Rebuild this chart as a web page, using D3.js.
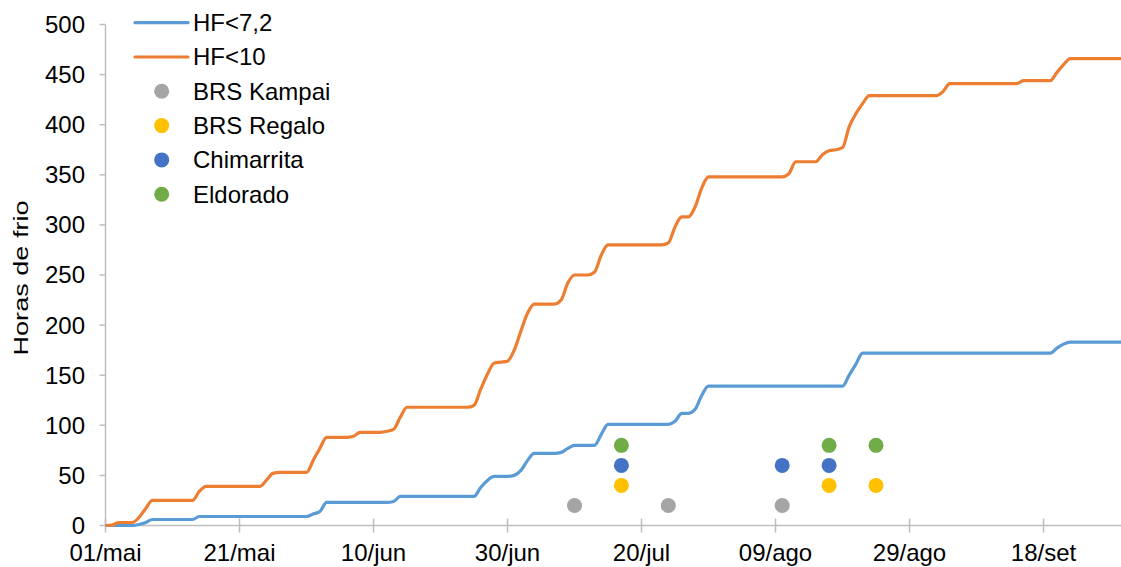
<!DOCTYPE html>
<html>
<head>
<meta charset="utf-8">
<script src="https://cdn.jsdelivr.net/npm/d3@7"></script>
<style>
  html, body { margin: 0; padding: 0; background: #fff; }
  svg { display: block; font-family: "Liberation Sans", Arial, sans-serif; }
</style>
</head>
<body>
<svg id="chart" width="1121" height="567"></svg>
<script>
// Daily accumulated chill hours, starting 01/mai (one value per day)
const startDate = new Date(2020, 4, 1);
const endDate = new Date(2020, 8, 30);

const hf72 = [
  0, 0, 0, 0, 0, 1, 3, 6, 6, 6,
  6, 6, 6, 6, 9, 9, 9, 9, 9, 9,
  9, 9, 9, 9, 9, 9, 9, 9, 9, 9,
  9, 11.5, 14, 23, 23, 23, 23, 23, 23, 23,
  23, 23, 23, 24, 29, 29, 29, 29, 29, 29,
  29, 29, 29, 29, 29, 29, 38, 45, 49, 49,
  49, 50, 55, 65, 72, 72, 72, 72, 73, 77,
  80, 80, 80, 80, 91, 101, 101, 101, 101, 101,
  101, 101, 101, 101, 101, 104, 112, 112, 116, 130,
  139, 139, 139, 139, 139, 139, 139, 139, 139, 139,
  139, 139, 139, 139, 139, 139, 139, 139, 139, 139,
  139, 150, 161, 172, 172, 172, 172, 172, 172, 172,
  172, 172, 172, 172, 172, 172, 172, 172, 172, 172,
  172, 172, 172, 172, 172, 172, 172, 172, 172, 172,
  172, 172, 177, 181, 183, 183, 183, 183, 183, 183,
  183, 183, 183
];

const hf10 = [
  0, 0.5, 3, 3, 3, 8, 17, 25, 25, 25,
  25, 25, 25, 25, 34, 39, 39, 39, 39, 39,
  39, 39, 39, 39, 45, 52, 53, 53, 53, 53,
  53, 65, 77, 88, 88, 88, 88, 89, 93, 93,
  93, 93, 94, 96, 108, 118, 118, 118, 118, 118,
  118, 118, 118, 118, 118, 120, 136, 151, 162, 163,
  164, 175, 194, 212, 221, 221, 221, 221, 225, 242,
  250, 250, 250, 253, 270, 280, 280, 280, 280, 280,
  280, 280, 280, 280, 282, 298, 308, 308, 318, 337,
  348, 348, 348, 348, 348, 348, 348, 348, 348, 348,
  348, 348, 351, 363, 363, 363, 363, 370, 374, 375,
  377, 398, 411, 421, 429, 429, 429, 429, 429, 429,
  429, 429, 429, 429, 429, 433, 441, 441, 441, 441,
  441, 441, 441, 441, 441, 441, 441, 444, 444, 444,
  444, 444, 452, 460, 466, 466, 466, 466, 466, 466,
  466, 466, 466
];

// Chill hours required per cultivar, plotted on the date it was reached
const kampaiDates = ["2020-07-10", "2020-07-24", "2020-08-10"];
const kampaiValue = 20;
const regaloDates = ["2020-07-17", "2020-08-17", "2020-08-24"];
const regaloValue = 40;
const chimarritaDates = ["2020-07-17", "2020-08-10", "2020-08-17"];
const chimarritaValue = 60;
const eldoradoDates = ["2020-07-17", "2020-08-17", "2020-08-24"];
const eldoradoValue = 80;

const yTicks = [0, 50, 100, 150, 200, 250, 300, 350, 400, 450, 500];
const xTickDates = ["2020-05-01", "2020-05-21", "2020-06-10", "2020-06-30",
                    "2020-07-20", "2020-08-09", "2020-08-29", "2020-09-18"];
const monthNames = ["jan", "fev", "mar", "abr", "mai", "jun", "jul", "ago", "set", "out", "nov", "dez"];

const lineSeries = [
  { name: "HF<7,2", values: hf72, color: "#5B9BD5" },
  { name: "HF<10", values: hf10, color: "#ED7D31" }
];
const pointSeries = [
  { name: "BRS Kampai", dates: kampaiDates, value: kampaiValue, color: "#A5A5A5" },
  { name: "BRS Regalo", dates: regaloDates, value: regaloValue, color: "#FFC000" },
  { name: "Chimarrita", dates: chimarritaDates, value: chimarritaValue, color: "#4472C4" },
  { name: "Eldorado", dates: eldoradoDates, value: eldoradoValue, color: "#70AD47" }
];

const parseDate = d3.timeParse("%Y-%m-%d");
const fmt = d => d3.timeFormat("%d")(d) + "/" + monthNames[d.getMonth()];

const svg = d3.select("#chart");
const x0 = 105.5, pxPerDay = 6.7;
const nDays = d3.timeDay.count(startDate, endDate);
const x = d3.scaleTime().domain([startDate, endDate]).range([x0, x0 + nDays * pxPerDay]);
const y = d3.scaleLinear().domain([0, 500]).range([525.5, 24.5]);
const plotRight = 1121;
const axisColor = "#BFBFBF";
const fontSize = 24;

// Y axis: line, outside ticks, labels
const yAxis = svg.append("g");
yAxis.append("line").attr("x1", x0).attr("x2", x0).attr("y1", y(500)).attr("y2", y(0))
  .attr("stroke", axisColor).attr("stroke-width", 1.5);
yAxis.selectAll("line.tick").data(yTicks).join("line").attr("class", "tick")
  .attr("x1", x0 - 6).attr("x2", x0).attr("y1", d => y(d)).attr("y2", d => y(d))
  .attr("stroke", axisColor).attr("stroke-width", 1.5);
yAxis.selectAll("text").data(yTicks).join("text")
  .attr("x", 85).attr("y", d => y(d)).attr("dy", "0.35em")
  .attr("text-anchor", "end").attr("font-size", fontSize).attr("fill", "#000")
  .text(d => d);

// X axis: line, crossing ticks, date labels
const xAxis = svg.append("g");
xAxis.append("line").attr("x1", x0).attr("x2", plotRight).attr("y1", y(0)).attr("y2", y(0))
  .attr("stroke", axisColor).attr("stroke-width", 1.5);
const xt = xTickDates.map(parseDate);
xAxis.selectAll("line.tick").data(xt).join("line").attr("class", "tick")
  .attr("x1", d => x(d)).attr("x2", d => x(d)).attr("y1", y(0) - 7).attr("y2", y(0) + 7)
  .attr("stroke", axisColor).attr("stroke-width", 1.5);
xAxis.selectAll("text").data(xt).join("text")
  .attr("x", d => x(d)).attr("y", 561)
  .attr("text-anchor", "middle").attr("font-size", fontSize).attr("fill", "#000")
  .text(fmt);

// Y axis title
svg.append("text")
  .attr("transform", `translate(27.5,${(y(0) + y(500)) / 2 + 3}) rotate(-90)`)
  .attr("text-anchor", "middle").attr("font-size", 21)
  .attr("textLength", 155).attr("lengthAdjust", "spacingAndGlyphs")
  .attr("fill", "#000").text("Horas de frio");

// Clip plotting area
svg.append("clipPath").attr("id", "plot-clip").append("rect")
  .attr("x", x0).attr("y", 0).attr("width", plotRight - x0).attr("height", 567);

const line = d3.line()
  .x((d, i) => x(d3.timeDay.offset(startDate, i)))
  .y(d => y(d))
  .curve(d3.curveMonotoneX);

svg.append("g").attr("clip-path", "url(#plot-clip)")
  .selectAll("path").data(lineSeries).join("path")
  .attr("d", s => line(s.values))
  .attr("fill", "none").attr("stroke", s => s.color)
  .attr("stroke-width", 3.2).attr("stroke-linejoin", "round").attr("stroke-linecap", "round");

// Cultivar points
const pts = svg.append("g");
pointSeries.forEach(s => {
  pts.selectAll(null).data(s.dates.map(parseDate)).join("circle")
    .attr("cx", d => x(d)).attr("cy", y(s.value)).attr("r", 7.5)
    .attr("fill", s.color);
});

// Legend
const legendX = 135, legendTextX = 193, legendY0 = 22.7, legendStep = 34.3;
const legend = svg.append("g");
const items = [
  ...lineSeries.map(s => ({ name: s.name, color: s.color, type: "line" })),
  ...pointSeries.map(s => ({ name: s.name, color: s.color, type: "dot" }))
];
items.forEach((it, i) => {
  const cy = legendY0 + i * legendStep;
  if (it.type === "line") {
    legend.append("line").attr("x1", legendX).attr("x2", legendX + 53)
      .attr("y1", cy).attr("y2", cy)
      .attr("stroke", it.color).attr("stroke-width", 3.2).attr("stroke-linecap", "round");
  } else {
    legend.append("circle").attr("cx", 161.7).attr("cy", cy).attr("r", 7.5).attr("fill", it.color);
  }
  legend.append("text").attr("x", legendTextX).attr("y", cy).attr("dy", "0.35em")
    .attr("font-size", fontSize).attr("fill", "#000").text(it.name);
});
</script>
</body>
</html>
